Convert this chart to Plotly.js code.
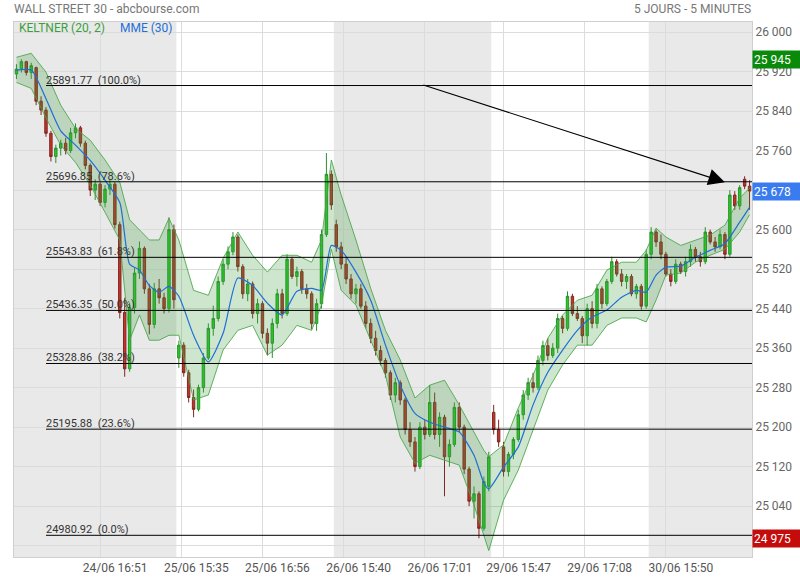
<!DOCTYPE html>
<html>
<head>
<meta charset="utf-8">
<script src="https://cdn.plot.ly/plotly-3.0.1.min.js"></script>
<style>html,body{margin:0;padding:0;background:#fff;}#chart{width:800px;height:580px;}</style>
</head>
<body>
<div id="chart"></div>
<script>
// ---- data (5-minute bars) ----
const opens = [25915,25925,25940,25918,25928,25860,25842,25795,25748,25765,25775,25760,25796,25806,25775,25730,25680,25692,25655,25682,25692,25610,25432,25318,25442,25512,25562,25480,25408,25480,25462,25440,25600,
25340,25366,25310,25260,25236,25280,25340,25400,25420,25495,25530,25555,25585,25525,25470,25490,25430,25450,25390,25370,25410,25470,25430,25540,25505,25515,25480,25470,25410,25450,25590,25712,
25610,25565,25530,25500,25470,25480,25445,25410,25380,25355,25335,25310,25265,25290,25255,25195,25170,25120,25200,25185,25250,25185,25220,25140,25165,25240,25200,25115,25050,25065,24995,25080,
25230,25195,25160,25110,25145,25175,25225,25265,25290,25280,25335,25365,25345,25360,25420,25400,25465,25430,25420,25385,25440,25410,25480,25450,25495,25535,25510,25495,25505,25470,25485,25445,
25550,25595,25575,25550,25510,25495,25530,25515,25535,25560,25545,25535,25595,25575,25565,25590,25550,25670,25648,25702,25688];
const highs = [25935,25945,25942,25938,25930,25870,25848,25800,25772,25782,25786,25806,25815,25810,25780,25734,25702,25696,25690,25702,25696,25616,25462,25452,25522,25576,25566,25490,25492,25500,25472,25625,25610,
25375,25372,25316,25276,25286,25350,25410,25446,25505,25540,25566,25595,25590,25530,25500,25495,25460,25455,25400,25420,25480,25480,25550,25545,25525,25520,25490,25475,25460,25600,25755,25720,
25620,25575,25545,25510,25490,25490,25455,25420,25395,25365,25340,25315,25300,25295,25260,25210,25180,25210,25215,25285,25270,25230,25225,25175,25250,25250,25205,25120,25080,25070,25100,25150,
25245,25215,25170,25150,25180,25235,25275,25300,25310,25345,25375,25380,25370,25430,25425,25475,25470,25445,25425,25450,25455,25490,25485,25500,25545,25540,25520,25510,25510,25490,25490,25560,
25605,25600,25590,25555,25520,25540,25535,25545,25570,25565,25555,25605,25600,25585,25600,25595,25680,25678,25690,25708,25700];
const lows = [25905,25918,25912,25905,25852,25832,25788,25738,25735,25750,25752,25755,25785,25768,25722,25668,25660,25648,25645,25670,25602,25420,25302,25312,25430,25500,25470,25388,25400,25450,25430,25432,25440,
25320,25302,25250,25220,25232,25270,25336,25385,25414,25488,25520,25548,25515,25460,25455,25420,25410,25380,25345,25340,25400,25420,25425,25500,25485,25470,25460,25398,25395,25440,25585,25640,
25555,25520,25490,25460,25450,25440,25400,25370,25345,25325,25300,25255,25250,25245,25185,25160,25110,25115,25175,25180,25175,25160,25060,25120,25160,25190,25105,25040,25015,24975,24990,25070,
25185,25160,25100,25100,25135,25170,25215,25255,25270,25275,25325,25335,25340,25350,25390,25395,25425,25415,25370,25365,25400,25400,25440,25445,25490,25505,25485,25480,25465,25460,25438,25440,
25540,25565,25540,25505,25485,25490,25510,25505,25525,25535,25525,25530,25570,25555,25560,25540,25545,25640,25640,25682,25640];
const closes = [25925,25940,25918,25932,25860,25842,25795,25748,25765,25775,25760,25796,25806,25775,25730,25680,25692,25655,25682,25692,25610,25432,25318,25442,25512,25562,25480,25408,25480,25462,25440,25600,25458,
25366,25310,25260,25236,25280,25340,25400,25420,25495,25530,25555,25585,25525,25470,25490,25430,25450,25390,25370,25410,25470,25430,25540,25505,25515,25480,25470,25410,25450,25590,25712,25650,
25565,25530,25500,25470,25480,25445,25410,25380,25355,25335,25310,25265,25290,25255,25195,25170,25120,25200,25185,25250,25185,25220,25140,25165,25240,25200,25115,25050,25065,24995,25090,25140,
25195,25170,25110,25145,25175,25225,25265,25290,25280,25335,25365,25345,25360,25420,25400,25465,25430,25420,25385,25440,25410,25480,25450,25495,25535,25510,25495,25505,25470,25485,25445,25550,
25595,25575,25550,25510,25495,25530,25515,25535,25560,25545,25535,25595,25575,25565,25590,25550,25670,25648,25685,25688,25678];

// first bar of each trading day
const dayStarts = [0, 33, 65, 97, 129];

// indicator samples (bar index, MME 30, Keltner upper / lower)
const indicatorIdx = [0,3,6,9,12,15,18,21,23,25,27,29,31,33,36,39,42,45,48,51,54,57,60,62,64,66,69,72,75,78,81,84,87,90,93,95,96,99,102,105,108,111,114,117,120,123,126,128,130,132,135,138,141,144,147,149];
const mme30 = [25923,25923,25865,25800,25771,25740,25700,25655,25530,25518,25487,25473,25485,25465,25386,25332,25390,25502,25487,25451,25427,25475,25481,25477,25568,25558,25514,25457,25366,25285,25228,25210,25200,25190,25143,25087,25075,25119,25160,25245,25311,25356,25396,25423,25437,25463,25477,25473,25508,25524,25526,25544,25558,25572,25615,25645];
const keltnerUpper = [25949,25957,25919,25852,25805,25781,25741,25696,25620,25599,25579,25579,25623,25579,25477,25467,25542,25595,25548,25514,25548,25548,25534,25579,25741,25670,25579,25481,25396,25336,25259,25285,25295,25245,25190,25153,25140,25164,25239,25305,25380,25427,25457,25467,25518,25534,25534,25558,25603,25585,25568,25579,25589,25609,25664,25684];
const keltnerLower = [25898,25886,25826,25771,25736,25690,25635,25579,25376,25427,25376,25376,25386,25386,25255,25265,25356,25396,25406,25346,25366,25406,25396,25447,25560,25477,25447,25376,25305,25180,25127,25143,25133,25123,25042,24981,24950,25052,25113,25194,25275,25326,25366,25366,25406,25421,25421,25413,25457,25508,25512,25534,25548,25560,25595,25630];

// Fibonacci retracement levels
const fibLevels = [25891.77, 25696.85, 25543.83, 25436.35, 25328.86, 25195.88, 24980.92];
const fibPercents = ['100.0%', '78.6%', '61.8%', '50.0%', '38.2%', '23.6%', '0.0%'];

// time axis labels
const timeTickIdx = [17, 33.5, 50, 66.5, 83, 99, 115.5, 132];
const timeTickText = ['24/06 16:51', '25/06 15:35', '25/06 16:56', '26/06 15:40', '26/06 17:01', '29/06 15:47', '29/06 17:08', '30/06 15:50'];

// price axis grid (the lowest line has no visible label)
const priceTicks = [24960, 25040, 25120, 25200, 25280, 25360, 25440, 25520, 25600, 25680, 25760, 25840, 25920, 26000];

// drawn trend arrow (bar index, price)
const arrowFrom = [82.4, 25894];
const arrowTo = [144, 25696];

// ---- build ----
const N = opens.length;
const barIndex = opens.map((_, i) => i);
const periodHigh = Math.max(...highs);
const periodLow = Math.min(...lows);
const lastPrice = closes[N - 1];

const FONT = 'Roboto, "Open Sans", sans-serif';
const fmt = v => Math.round(v).toString().replace(/\B(?=(\d{3})+(?!\d))/g, ' ');

const traces = [
  { type: 'scatter', mode: 'lines', x: indicatorIdx, y: keltnerUpper,
    line: { color: 'rgba(70,165,70,0.85)', width: 1 }, hoverinfo: 'skip', showlegend: false },
  { type: 'scatter', mode: 'lines', x: indicatorIdx, y: keltnerLower, fill: 'tonexty',
    fillcolor: 'rgba(60,160,60,0.26)',
    line: { color: 'rgba(70,165,70,0.85)', width: 1 }, hoverinfo: 'skip', showlegend: false },
  { type: 'candlestick', x: barIndex, open: opens, high: highs, low: lows, close: closes,
    increasing: { line: { color: '#2f8f2f', width: 1 }, fillcolor: '#1fd11f' },
    decreasing: { line: { color: '#7d2a22', width: 1 }, fillcolor: '#c8302a' },
    whiskerwidth: 0, showlegend: false, hoverinfo: 'skip' },
  { type: 'scatter', mode: 'lines', x: indicatorIdx, y: mme30,
    line: { color: '#1f6fd6', width: 1.2, shape: 'spline', smoothing: 0.6 }, hoverinfo: 'skip', showlegend: false }
];

const shapes = [];
for (let d = 0; d < dayStarts.length; d += 2) {
  const start = dayStarts[d] - 0.5;
  const end = (d + 1 < dayStarts.length ? dayStarts[d + 1] : N) - 0.5;
  shapes.push({ type: 'rect', xref: 'x', yref: 'paper', x0: start, x1: end, y0: 0, y1: 1,
    fillcolor: '#e9e9e9', line: { width: 0 }, layer: 'below' });
}
const fibStart = 0.0434;
fibLevels.forEach(v => shapes.push({ type: 'line', xref: 'paper', yref: 'y', x0: fibStart, x1: 1, y0: v, y1: v,
  line: { color: '#000', width: 1 }, layer: 'above' }));

const annotations = [
  { xref: 'paper', yref: 'paper', x: 0, y: 1, xanchor: 'left', yanchor: 'middle', xshift: -2, yshift: 13,
    text: 'WALL STREET 30 - abcbourse.com', showarrow: false, font: { family: FONT, size: 12, color: '#777' } },
  { xref: 'paper', yref: 'paper', x: 1, y: 1, xanchor: 'right', yanchor: 'middle', xshift: 1, yshift: 13,
    text: '5 JOURS - 5 MINUTES', showarrow: false, font: { family: FONT, size: 12, color: '#777' } },
  { xref: 'paper', yref: 'paper', x: 0, y: 1, xanchor: 'left', yanchor: 'middle', xshift: 3, yshift: -6,
    text: 'KELTNER (20, 2)', showarrow: false, font: { family: FONT, size: 12, color: '#3c9f3c' } },
  { xref: 'paper', yref: 'paper', x: 0, y: 1, xanchor: 'left', yanchor: 'middle', xshift: 104, yshift: -6,
    text: 'MME (30)', showarrow: false, font: { family: FONT, size: 12, color: '#1f6fd6' } },
  { xref: 'x', yref: 'y', x: arrowTo[0], y: arrowTo[1], axref: 'x', ayref: 'y', ax: arrowFrom[0], ay: arrowFrom[1],
    text: '', showarrow: true, arrowhead: 2, arrowsize: 3, arrowwidth: 1.1, arrowcolor: '#000', standoff: 0 }
];
fibLevels.forEach((v, i) => annotations.push({
  xref: 'paper', yref: 'y', x: fibStart, y: v, xanchor: 'left', yanchor: 'bottom', xshift: -2, yshift: -3,
  text: v.toFixed(2) + '\u00a0\u00a0(' + fibPercents[i] + ')', showarrow: false,
  font: { family: FONT, size: 11, color: '#333' }
}));
[[periodHigh, '#0a8a0a'], [lastPrice, '#3a7cf0'], [periodLow, '#c40c0c']].forEach(([v, c]) => annotations.push({
  xref: 'paper', yref: 'y', x: 1, y: v, xanchor: 'left', yanchor: 'middle', xshift: 0,
  text: fmt(v), showarrow: false, bgcolor: c, width: 45, height: 15, align: 'left', borderpad: 1,
  font: { family: FONT, size: 12, color: '#fff' }
}));

const layout = {
  width: 800, height: 580,
  margin: { l: 14, r: 48, t: 22, b: 23, pad: 0 },
  paper_bgcolor: '#fff', plot_bgcolor: '#fff',
  separators: ', ',
  font: { family: FONT, size: 12, color: '#555' },
  showlegend: false,
  hovermode: false,
  xaxis: {
    range: [-0.5, N - 0.5], tickmode: 'array', tickvals: timeTickIdx, ticktext: timeTickText,
    showgrid: true, gridcolor: '#dcdcdc', gridwidth: 1, zeroline: false,
    showline: true, linecolor: '#cfcfcf', linewidth: 1, mirror: true,
    ticks: '', ticklabelshift: 15, tickfont: { family: FONT, size: 12, color: '#555' },
    rangeslider: { visible: false }, fixedrange: true
  },
  yaxis: {
    side: 'right', range: [24937, 26020.4], tickmode: 'array', tickvals: priceTicks,
    ticktext: priceTicks.map((v, i) => i === 0 ? '' : fmt(v)),
    showgrid: true, gridcolor: '#dcdcdc', gridwidth: 1, zeroline: false,
    showline: true, linecolor: '#cfcfcf', linewidth: 1, mirror: true,
    ticks: '', tickfont: { family: FONT, size: 12, color: '#666' }, fixedrange: true
  },
  shapes: shapes,
  annotations: annotations
};

Plotly.newPlot('chart', traces, layout, { displayModeBar: false, staticPlot: true });
</script>
</body>
</html>
